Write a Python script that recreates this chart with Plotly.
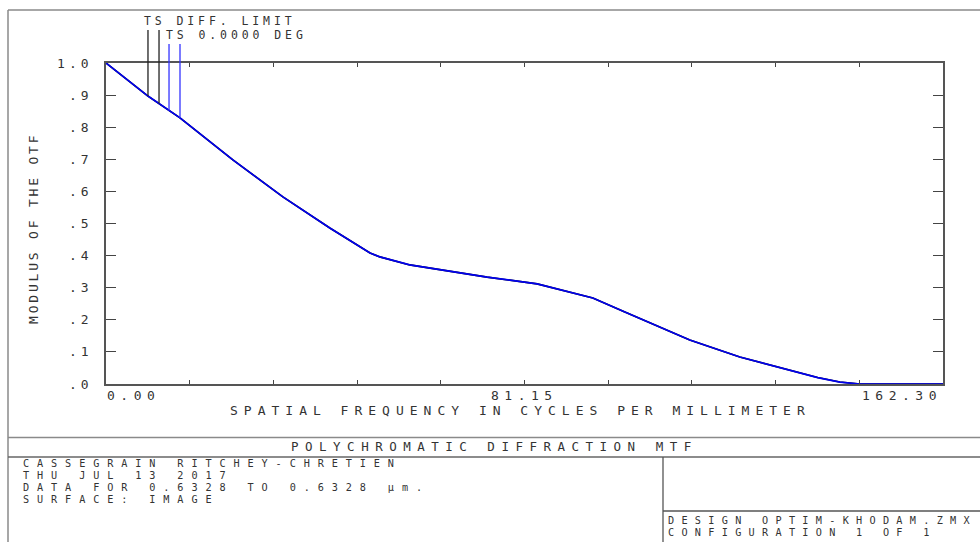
import numpy as np
import plotly.graph_objects as go

# ---------------- data ----------------
freq = [0.0, 8.14, 14.35, 24.6, 34.3, 43.4, 51.2, 53.1, 58.9, 66.0, 73.9, 83.6,
        94.4, 100.5, 107.4, 113.2, 122.9, 132.6, 138.0, 142.3, 146.2, 162.3]
mtf_ts_0deg = [1.0, 0.897, 0.829, 0.698, 0.583, 0.486, 0.408, 0.396, 0.371, 0.352,
               0.333, 0.312, 0.268, 0.225, 0.178, 0.137, 0.084, 0.044, 0.020,
               0.006, 0.0, 0.0]
mtf_diff_limit = [1.0, 0.897, 0.829, 0.698, 0.583, 0.486, 0.408, 0.396, 0.371, 0.352,
                  0.333, 0.312, 0.268, 0.225, 0.178, 0.137, 0.084, 0.044, 0.020,
                  0.006, 0.0, 0.0]
x_max = 162.30
x_tick_labels = ["0.00", "81.15", "162.30"]
x_tick_label_vals = [0.0, 81.15, 162.30]
y_tick_vals = [0.0, 0.1, 0.2, 0.3, 0.4, 0.5, 0.6, 0.7, 0.8, 0.9, 1.0]
y_tick_text = [".0", ".1", ".2", ".3", ".4", ".5", ".6", ".7", ".8", ".9", "1.0"]
left_lines = ["CASSEGRAIN RITCHEY-CHRETIEN", "THU JUL 13 2017",
              "DATA FOR 0.6328 TO 0.6328 µm.", "SURFACE: IMAGE"]
right_lines = ["DESIGN OPTIM-KHODAM.ZMX", "CONFIGURATION 1 OF 1"]

# ---------------- layout geometry (pixels) ----------------
W, H = 980, 542
L, R, T, B = 106, 943, 63, 384
PW, PH = R - L, B - T


def px(x):
    return (x - L) / PW


def py(y):
    return (B - y) / PH


FONT = "DejaVu Sans Mono"
TXT = "#333333"


def sp(s, ls):
    return '<span style="letter-spacing:%spx">%s</span>' % (ls, s)


fig = go.Figure()
fig.add_trace(go.Scatter(x=freq, y=mtf_diff_limit, mode="lines",
                         line=dict(color="black", width=1.6), hoverinfo="skip"))
fig.add_trace(go.Scatter(x=freq, y=mtf_ts_0deg, mode="lines",
                         line=dict(color="#0000ee", width=1.7), hoverinfo="skip"))

fig.update_layout(
    width=W, height=H, autosize=False,
    margin=dict(l=L, r=W - R, t=T, b=H - B, pad=0),
    paper_bgcolor="white", plot_bgcolor="white",
    showlegend=False,
    font=dict(family=FONT, color=TXT, size=13),
)
fig.update_xaxes(range=[0, x_max], tick0=0, dtick=x_max / 10, ticks="inside",
                 ticklen=4, tickwidth=1.3, tickcolor="#444", showticklabels=False,
                 showline=True, linecolor="#555", linewidth=1.6, mirror="ticks",
                 showgrid=False, zeroline=False, fixedrange=True)
fig.update_yaxes(range=[0, 1], tickvals=y_tick_vals,
                 ticktext=[sp(t, 4) for t in y_tick_text],
                 ticks="inside", ticklen=10, tickwidth=1.3, tickcolor="#444",
                 ticklabelstandoff=9, tickfont=dict(size=13, color=TXT, family=FONT),
                 showline=True, linecolor="#555", linewidth=1.6, mirror="ticks",
                 showgrid=False, zeroline=False, fixedrange=True)

ann = []
# x tick labels
anchors = ["left", "center", "right"]
for v, t, a in zip(x_tick_label_vals, x_tick_labels, anchors):
    ann.append(dict(x=v, y=0, xref="x", yref="paper", xanchor=a, yanchor="top",
                    yshift=-3, text=sp(t, 5.5), showarrow=False, borderpad=0,
                    font=dict(size=13, color=TXT, family=FONT)))
# axis titles
ann.append(dict(x=px(520), y=py(410), xref="paper", yref="paper", xanchor="center",
                yanchor="middle", text=sp("SPATIAL FREQUENCY IN CYCLES PER MILLIMETER", 6),
                showarrow=False, borderpad=0, font=dict(size=13, color=TXT, family=FONT)))
ann.append(dict(x=px(33), y=py(229), xref="paper", yref="paper", xanchor="center",
                yanchor="middle", textangle=-90, text=sp("MODULUS OF THE OTF", 2.8),
                showarrow=False, borderpad=0, font=dict(size=13, color=TXT, family=FONT)))
# legend text
LEG = 11.5
ann.append(dict(x=px(143), y=py(21.5), xref="paper", yref="paper", xanchor="left",
                yanchor="middle", text=sp("TS DIFF. LIMIT", 3.9), showarrow=False,
                borderpad=0, font=dict(size=LEG, color=TXT, family=FONT)))
ann.append(dict(x=px(165), y=py(35.5), xref="paper", yref="paper", xanchor="left",
                yanchor="middle", text=sp("TS 0.0000 DEG", 3.9), showarrow=False,
                borderpad=0, font=dict(size=LEG, color=TXT, family=FONT)))
# bottom title block
ann.append(dict(x=px(494), y=py(447), xref="paper", yref="paper", xanchor="center",
                yanchor="middle", text=sp("POLYCHROMATIC DIFFRACTION MTF", 6.5),
                showarrow=False, borderpad=0, font=dict(size=12.5, color=TXT, family=FONT)))
# info lines: separate texts, 12 px line pitch
INFO = 10.2
for i, s in enumerate(left_lines):
    ann.append(dict(x=px(22), y=py(463.5 + 12 * i), xref="paper", yref="paper",
                    xanchor="left", yanchor="middle", text=sp(s, 7.9), showarrow=False,
                    borderpad=0, font=dict(size=INFO, color=TXT, family=FONT)))
for i, s in enumerate(right_lines):
    ann.append(dict(x=px(667), y=py(520.5 + 12 * i), xref="paper", yref="paper",
                    xanchor="left", yanchor="middle", text=sp(s, 7.3), showarrow=False,
                    borderpad=0, font=dict(size=INFO, color=TXT, family=FONT)))
fig.update_layout(annotations=ann)

shapes = []
# legend key lines: from label area down to the curve
key_lines = [(8.14, 30, "#222222"), (10.28, 30, "#222222"),
             (12.22, 44, "#3333ff"), (14.35, 44, "#3333ff")]
for fx, top, col in key_lines:
    yv = float(np.interp(fx, freq, mtf_ts_0deg))
    shapes.append(dict(type="line", xref="x", yref="paper", x0=fx, x1=fx,
                       y0=yv, y1=py(top), line=dict(color=col, width=1.3)))
# frame lines
gray = "#8a8a8a"
shapes += [
    dict(type="line", xref="paper", yref="paper", x0=px(8), x1=px(8), y0=py(10), y1=py(542),
         line=dict(color=gray, width=1.5)),
    dict(type="line", xref="paper", yref="paper", x0=px(8), x1=px(980), y0=py(10), y1=py(10),
         line=dict(color=gray, width=1.5)),
    dict(type="line", xref="paper", yref="paper", x0=px(8), x1=px(980), y0=py(437.5), y1=py(437.5),
         line=dict(color=gray, width=1.5)),
    dict(type="line", xref="paper", yref="paper", x0=px(8), x1=px(980), y0=py(457), y1=py(457),
         line=dict(color="#666", width=1.3)),
    dict(type="line", xref="paper", yref="paper", x0=px(663), x1=px(663), y0=py(457), y1=py(542),
         line=dict(color="#555", width=1.3)),
    dict(type="line", xref="paper", yref="paper", x0=px(663), x1=px(980), y0=py(511), y1=py(511),
         line=dict(color="#555", width=1.3)),
]
fig.update_layout(shapes=shapes)

fig.write_html("out.html", config={"displayModeBar": False})
